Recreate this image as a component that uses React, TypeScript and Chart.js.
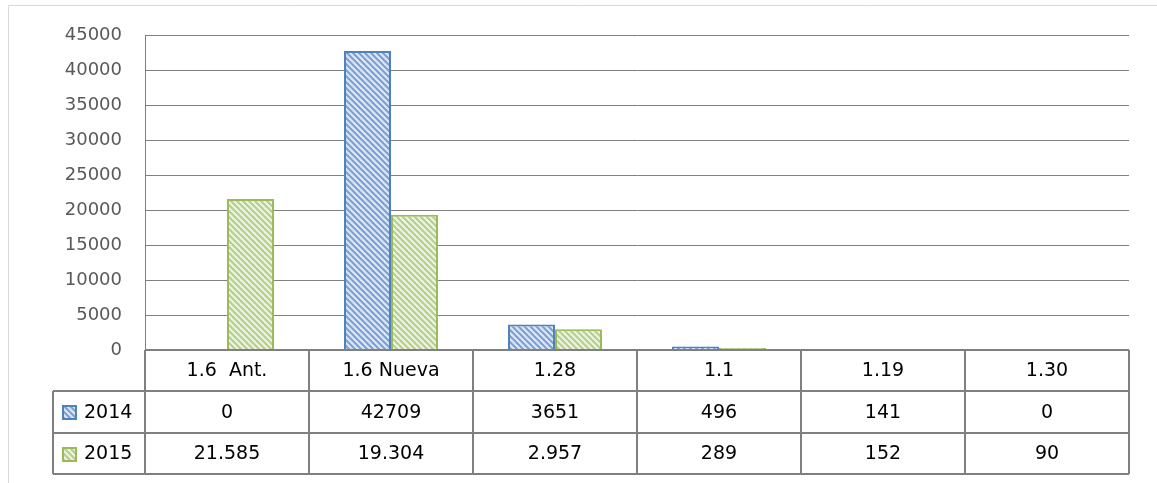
import React, { useEffect, useRef } from 'react';
import { Chart, registerables } from 'chart.js';

Chart.register(...registerables);

const categories = ['1.6  Ant.', '1.6 Nueva', '1.28', '1.1', '1.19', '1.30'];
const seriesNames = ['2014', '2015'];
const values2014 = [0, 42709, 3651, 496, 141, 0];
const values2015 = [21585, 19304, 2957, 289, 152, 90];
const yMax = 45000;
const yStep = 5000;

const FONT = '"DejaVu Sans", sans-serif';
const GRID = '#808080';

const fmtPlain = (v: number) => String(v);
const fmtDot = (v: number) => String(v).replace(/\B(?=(\d{3})+(?!\d))/g, '.');

function makePattern(bg: string, stripe: string): CanvasPattern | string {
  const c = document.createElement('canvas');
  c.width = 6;
  c.height = 6;
  const ctx = c.getContext('2d');
  if (!ctx) return bg;
  ctx.fillStyle = bg;
  ctx.fillRect(0, 0, 6, 6);
  ctx.strokeStyle = stripe;
  ctx.lineWidth = 2;
  for (const dx of [-6, 0, 6]) {
    ctx.beginPath();
    ctx.moveTo(dx - 1, -1);
    ctx.lineTo(dx + 7, 7);
    ctx.stroke();
  }
  return ctx.createPattern(c, 'repeat') || bg;
}

export default function App() {
  const ref = useRef<HTMLCanvasElement>(null);

  useEffect(() => {
    if (!ref.current) return;
    const bluePat = makePattern('#dce6f3', '#78a0d6');
    const greenPat = makePattern('#edf3e1', '#b5ce89');
    const blueBorder = '#4f81bd';
    const greenBorder = '#9bbb59';

    const series = [
      { name: seriesNames[0], values: values2014, fill: bluePat, border: blueBorder, fmt: fmtPlain },
      { name: seriesNames[1], values: values2015, fill: greenPat, border: greenBorder, fmt: fmtDot },
    ];

    const framePlugin = {
      id: 'frame',
      beforeDraw(chart: any) {
        const ctx = chart.ctx;
        ctx.save();
        ctx.fillStyle = '#ffffff';
        ctx.fillRect(0, 0, chart.width, chart.height);
        ctx.strokeStyle = '#d9d9d9';
        ctx.lineWidth = 1;
        ctx.beginPath();
        ctx.moveTo(8.5, chart.height);
        ctx.lineTo(8.5, 5.5);
        ctx.lineTo(chart.width, 5.5);
        ctx.stroke();
        ctx.restore();
      },
    };

    const tablePlugin = {
      id: 'dataTable',
      afterDraw(chart: any) {
        const ctx = chart.ctx;
        const area = chart.chartArea;
        const xs = chart.scales.x;
        const colW = (area.right - area.left) / categories.length;
        const top = area.bottom;
        const rows = [top, top + 41, top + 83, top + 124];
        const legendLeft = 53;
        ctx.save();
        ctx.strokeStyle = GRID;
        ctx.lineWidth = 2;
        ctx.beginPath();
        ctx.moveTo(area.left, rows[0]);
        ctx.lineTo(area.right, rows[0]);
        for (let r = 1; r < rows.length; r++) {
          ctx.moveTo(legendLeft, rows[r]);
          ctx.lineTo(area.right, rows[r]);
        }
        ctx.moveTo(legendLeft, rows[1]);
        ctx.lineTo(legendLeft, rows[3]);
        for (let i = 0; i <= categories.length; i++) {
          const x = Math.round(area.left + i * colW);
          ctx.moveTo(x, rows[0]);
          ctx.lineTo(x, rows[3]);
        }
        ctx.stroke();

        ctx.fillStyle = '#000000';
        ctx.font = `19px ${FONT}`;
        ctx.textAlign = 'center';
        ctx.textBaseline = 'middle';
        categories.forEach((c, i) => {
          const cx = xs.getPixelForValue(i);
          ctx.fillText(c, cx, (rows[0] + rows[1]) / 2 + 1);
        });
        series.forEach((s, r) => {
          const cy = (rows[r + 1] + rows[r + 2]) / 2 + 1;
          s.values.forEach((v, i) => {
            const cx = xs.getPixelForValue(i);
            ctx.fillText(s.fmt(v), cx, cy);
          });
          const sx = 62;
          const sy = Math.round(cy - 8);
          ctx.fillStyle = s.fill as any;
          ctx.fillRect(sx, sy, 15, 15);
          ctx.strokeStyle = s.border;
          ctx.lineWidth = 2;
          ctx.strokeRect(sx + 1, sy + 1, 13, 13);
          ctx.fillStyle = '#000000';
          ctx.textAlign = 'left';
          ctx.fillText(s.name, 84, cy);
          ctx.textAlign = 'center';
        });
        ctx.restore();
      },
    };

    const chart = new Chart(ref.current, {
      type: 'bar',
      data: {
        labels: categories,
        datasets: series.map((s) => ({
          label: s.name,
          data: s.values,
          backgroundColor: s.fill as any,
          borderColor: s.border,
          borderWidth: 2,
          categoryPercentage: 0.573,
          barPercentage: 1,
        })),
      },
      options: {
        animation: false,
        responsive: false,
        maintainAspectRatio: false,
        devicePixelRatio: 1,
        layout: { padding: { left: 0, top: 35, right: 28, bottom: 133 } },
        plugins: {
          legend: { display: false },
          tooltip: { enabled: false },
        },
        scales: {
          x: {
            display: false,
          },
          y: {
            min: 0,
            max: yMax,
            afterFit: (scale: any) => {
              scale.width = 145;
            },
            ticks: {
              stepSize: yStep,
              padding: 23,
              color: '#595959',
              font: { family: FONT, size: 18 },
              callback: (v: any) => String(v),
            },
            grid: {
              color: GRID,
              lineWidth: 1,
              drawTicks: false,
            },
            border: { display: true, color: GRID, width: 1 },
          },
        },
      },
      plugins: [framePlugin, tablePlugin],
    });
    return () => chart.destroy();
  }, []);

  return (
    <div style={{ position: 'absolute', left: 0, top: 0, width: 1157, height: 483 }}>
      <canvas ref={ref} width={1157} height={483} style={{ display: 'block', width: 1157, height: 483 }} />
    </div>
  );
}
